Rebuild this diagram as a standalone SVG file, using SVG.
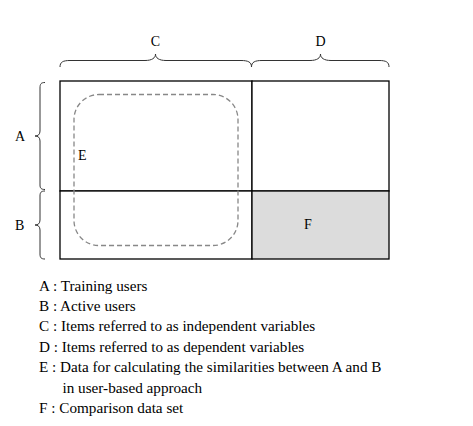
<svg xmlns="http://www.w3.org/2000/svg" width="473" height="426" viewBox="0 0 473 426">
<style>
.t{font-family:'Liberation Serif',serif;font-size:14px;fill:#000}
.lg{font-family:'Liberation Serif',serif;font-size:15.2px;fill:#000}
.brace{fill:none;stroke:#333;stroke-width:1}
.cell{fill:#fff;stroke:#000;stroke-width:1.3}
</style>
<rect width="473" height="426" fill="#fff"/>
<g id="connectors">
<path class="brace" d="M45,82.5 C41,82.5 40,84 40,88 L40,131 C40,134.5 38,136 35,136 C38,136 40,137.5 40,141 L40,185 C40,188 41,189.5 45,189.5"/>
<path class="brace" d="M45,191 C41,191 40,192.5 40,196 L40,220 C40,223.5 38,225 35,225 C38,225 40,226.5 40,230 L40,254 C40,257.5 41,259 45,259"/>
<path class="brace" d="M60,67 C60,62 63,60.5 70,60.5 L145,60.5 C152,60.5 155.5,58 155.5,54 C155.5,58 159,60.5 166,60.5 L241,60.5 C248,60.5 251.5,62 251.5,67"/>
<path class="brace" d="M251.5,67 C251.5,62 255,60.5 262,60.5 L310,60.5 C317,60.5 320.5,58 320.5,54 C320.5,58 324,60.5 331,60.5 L379,60.5 C386,60.5 389,62 389,67"/>
</g>
<g id="cellA_C"><rect class="cell" x="60" y="81" width="192" height="110"/></g>
<g id="cellA_D"><rect class="cell" x="252" y="81" width="137" height="110"/></g>
<g id="cellB_C"><rect class="cell" x="60" y="191" width="192" height="68"/></g>
<g id="nodeF"><rect class="cell" x="252" y="191" width="137" height="68" style="fill:#dcdcdc"/><text class="t" x="304" y="229">F</text></g>
<g id="nodeE"><rect x="74" y="94.5" width="164" height="151" rx="25" ry="25" fill="none" stroke="#888" stroke-width="1.3" stroke-dasharray="5,3"/><text class="t" x="78" y="160">E</text></g>
<g id="labels">
<text class="t" x="15" y="141">A</text>
<text class="t" x="15" y="230">B</text>
<text class="t" x="155.5" y="46" text-anchor="middle">C</text>
<text class="t" x="320.5" y="46" text-anchor="middle">D</text>
</g>
<g id="legend">
<text class="lg" x="39" y="290.5">A : Training users</text>
<text class="lg" x="39" y="311">B : Active users</text>
<text class="lg" x="39" y="331.3">C : Items referred to as independent variables</text>
<text class="lg" x="39" y="351.7">D : Items referred to as dependent variables</text>
<text class="lg" x="39" y="372">E : Data for calculating the similarities between A and B</text>
<text class="lg" x="62.5" y="392.5">in user-based approach</text>
<text class="lg" x="39" y="413">F : Comparison data set</text>
</g>
</svg>
